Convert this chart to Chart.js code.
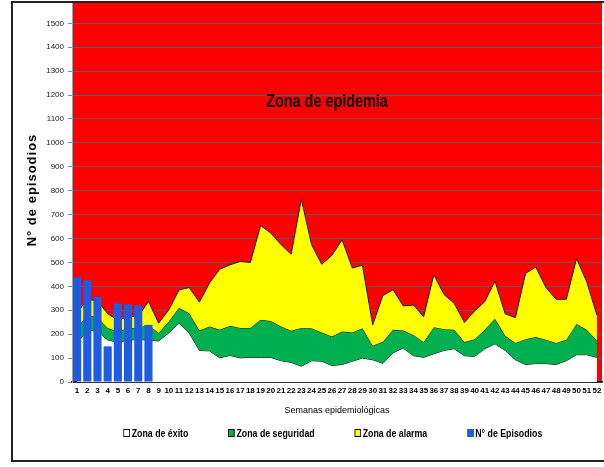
<!DOCTYPE html>
<html>
<head>
<meta charset="utf-8">
<script src="https://cdn.jsdelivr.net/npm/chart.js@4.4.1/dist/chart.umd.min.js"></script>
<style>
  html, body { margin: 0; padding: 0; background: #fff; overflow: hidden; }
  #marco { position: absolute; left: 11px; top: 1px; width: 620px; height: 457px; border: 2px solid #222; }
  #canal { position: absolute; left: 0; top: 0; }
  #leyenda { position: absolute; left: 0; top: 427px; width: 666px; display: flex; justify-content: center; gap: 50px;
    font: bold 11px "Liberation Sans", Arial, sans-serif; color: #000;
    transform: scaleX(0.8); transform-origin: 333px 0; }
  #leyenda span.caja { display: inline-block; width: 6px; height: 6px; border: 1px solid #000; margin-right: 2px; vertical-align: 0px; }
</style>
</head>
<body>
<div id="marco"></div>
<canvas id="canal" width="604" height="467"></canvas>
<div id="leyenda"></div>
<script>
const FUENTE = '"Liberation Sans", Arial, sans-serif';

// semanas epidemiologicas
const semanas = ['1','2','3','4','5','6','7','8','9','10','11','12','13','14','15','16','17','18','19','20',
  '21','22','23','24','25','26','27','28','29','30','31','32','33','34','35','36','37','38','39','40',
  '41','42','43','44','45','46','47','48','49','50','51','52'];

// limite superior de cada zona (valores acumulados)
const zonaExito = [162,218,211,176,166,175,178,175,172,205,247,205,132,130,101,111,101,103,103,103,
  89,82,66,89,87,69,73,87,100,93,78,122,142,110,103,118,132,139,110,107,
  139,160,132,93,73,77,77,73,89,114,114,103];
const zonaSeguridad = [225,280,270,226,210,226,226,238,205,253,310,288,215,232,218,235,226,226,260,255,
  232,214,226,225,207,190,211,207,225,152,168,218,215,197,166,229,221,218,167,179,
  218,264,193,163,179,188,177,163,177,243,218,174];
const zonaAlarma = [290,345,340,285,258,274,274,337,246,302,385,395,334,415,472,490,504,500,654,623,
  575,534,765,575,492,530,595,477,488,239,362,386,318,322,273,449,366,329,249,297,
  336,422,285,269,454,481,395,346,346,516,419,280];

// casos observados
const episodios = [437,426,357,149,329,325,321,239];

const fondoEpidemia = {
  id: 'fondoEpidemia',
  beforeDraw(chart) {
    const { ctx, chartArea: a } = chart;
    ctx.save();
    ctx.fillStyle = '#ff0000';
    ctx.fillRect(a.left, a.top, a.right - a.left, a.bottom - a.top);
    ctx.restore();
  },
  afterDatasetsDraw(chart) {
    const { ctx } = chart;
    ctx.save();
    ctx.fillStyle = '#000';
    ctx.textAlign = 'center';
    ctx.textBaseline = 'middle';
    // texto angosto, como Arial Narrow
    ctx.save();
    ctx.translate(327, 102);
    ctx.scale(0.8, 1);
    ctx.font = 'bold 18px ' + FUENTE;
    ctx.fillText('Zona de epidemia', 0, 0);
    ctx.restore();
    ctx.translate(32, 190);
    ctx.rotate(-Math.PI / 2);
    ctx.font = 'bold 13px ' + FUENTE;
    ctx.letterSpacing = '1px';
    ctx.fillText('N° de episodios', 0, 0);
    ctx.restore();
  }
};

const chart = new Chart(document.getElementById('canal'), {
  data: {
    labels: semanas,
    datasets: [
      { type: 'line', label: 'Zona de éxito', data: zonaExito, order: 3,
        backgroundColor: '#ffffff', borderColor: '#1a1a1a', borderWidth: 1, fill: 'origin',
        pointRadius: 0, tension: 0 },
      { type: 'line', label: 'Zona de seguridad', data: zonaSeguridad, order: 2,
        backgroundColor: '#00b050', borderColor: '#1a1a1a', borderWidth: 1, fill: '-1',
        pointRadius: 0, tension: 0 },
      { type: 'line', label: 'Zona de alarma', data: zonaAlarma, order: 1,
        backgroundColor: '#ffff00', borderColor: '#1a1a1a', borderWidth: 1, fill: '-1',
        pointRadius: 0, tension: 0 },
      { type: 'bar', label: 'N°  de Episodios', data: episodios, order: 0,
        backgroundColor: '#1f5ce2', borderWidth: 0,
        barPercentage: 0.8, categoryPercentage: 1 }
    ]
  },
  options: {
    responsive: false,
    animation: false,
    devicePixelRatio: 1,
    layout: { padding: { left: 44, right: 2, top: 3, bottom: 51 } },
    plugins: {
      legend: { display: false },
      tooltip: { enabled: false }
    },
    scales: {
      x: {
        offset: true,
        grid: { display: false, drawTicks: false },
        border: { color: '#000', width: 1.5 },
        ticks: { color: '#000', autoSkip: false, maxRotation: 0, padding: 4,
          font: { family: FUENTE, size: 8, weight: 'bold' } },
        title: { display: true, text: 'Semanas epidemiológicas', color: '#000',
          font: { family: FUENTE, size: 9 }, padding: { top: 6, bottom: 0 } },
        afterFit(s) { s.height = 34; s.paddingLeft = 0; s.paddingRight = 0; }
      },
      y: {
        min: 0,
        max: 1585,
        afterBuildTicks(s) { s.ticks = s.ticks.filter(t => t.value % 100 === 0); },
        grid: { color: '#5c5c5c', tickLength: 4, tickColor: '#8a8a8a' },
        border: { color: '#a0a0a0' },
        ticks: { stepSize: 100, color: '#222', padding: 4, font: { family: FUENTE, size: 8 },
          callback: v => String(v) },
        afterFit(s) { s.width = 28; s.paddingTop = 0; s.paddingBottom = 0; }
      }
    }
  },
  plugins: [fondoEpidemia]
});

// leyenda en HTML a partir de los datasets
const leyenda = document.getElementById('leyenda');
chart.data.datasets.forEach(ds => {
  const item = document.createElement('div');
  const caja = document.createElement('span');
  caja.className = 'caja';
  caja.style.background = ds.backgroundColor;
  if (ds.type === 'bar') caja.style.borderColor = ds.backgroundColor;
  item.appendChild(caja);
  item.appendChild(document.createTextNode(ds.label));
  leyenda.appendChild(item);
});
</script>
</body>
</html>
